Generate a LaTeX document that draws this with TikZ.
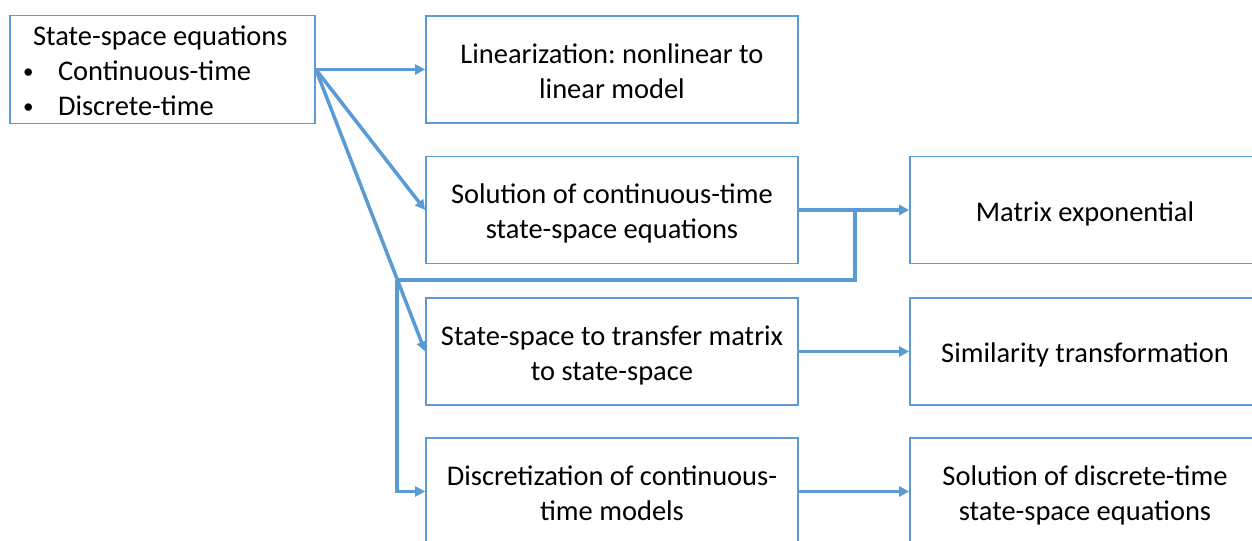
\documentclass[tikz,border=0pt]{standalone}
\usepackage{fontspec}
\setmainfont{Carlito}
\usetikzlibrary{arrows.meta}
\definecolor{boxblue}{RGB}{91,155,213}
\newcommand{\smallbullet}{\makebox[0.72cm][l]{\hspace{0.02cm}\fontsize{12}{12}\selectfont\raisebox{0.04cm}{\textbullet}}}
\newcommand{\topstrut}{\rule{0pt}{1.06em}}
\newcommand{\botstrut}{\rule[-0.27em]{0pt}{0.27em}}

\begin{document}
\begin{tikzpicture}[x=0.02cm,y=-0.02cm,
	main_node/.style={draw=boxblue,line width=1pt,minimum width=7.44cm,text width=7.44cm,minimum height=2.14cm,inner sep=0pt,align=flush center,font=\fontsize{16.2}{19.9}\selectfont\frenchspacing,
		execute at begin node=\topstrut,execute at end node=\botstrut},
	side_node/.style={main_node,minimum width=7cm,text width=7cm},
	list_node/.style={main_node,minimum width=6.1cm,text width=5.62cm,inner xsep=0.24cm,align=flush left,
		execute at begin node={},execute at end node={}},
	link/.style={draw=boxblue,line width=2pt,-{Triangle[length=0.2cm,width=0.2cm]}},
	plain_link/.style={draw=boxblue,line width=2pt}]

		\useasboundingbox (0,0) rectangle (1252,541);
		\clip (0,0) rectangle (1252,541);

		\node[list_node] (src) at (162.5,69.5) {\hspace*{0.22cm}State-space equations\\\smallbullet Continuous-time\\\smallbullet Discrete-time};

		\node[main_node] (lin) at (612,69.5) {Linearization: nonlinear to\\linear model};
		\node[main_node] (sol) at (612,210) {Solution of continuous-time\\state-space equations};
		\node[main_node] (tf) at (612,351.5) {State-space to transfer matrix\\to state-space};
		\node[main_node] (disc) at (612,491.5) {Discretization of continuous-\\time models};

		\node[side_node] (mat) at (1085,210) {Matrix exponential};
		\node[side_node] (sim) at (1085,351.5) {Similarity transformation};
		\node[side_node] (sold) at (1085,491.5) {Solution of discrete-time\\state-space equations};

		\coordinate (jn) at (397,280);
		\coordinate (bend) at (855,280);

		\draw[link] (src.east) -- (lin.west);
		\draw[link] (src.east) -- (sol.west);
		\draw[link] (src.east) -- (tf.west);
		\draw[link] (jn) |- (disc.west);
		\draw[plain_link] (jn) -- (bend) -- (bend |- sol.east);
		\draw[link] (sol.east) -- (mat.west);
		\draw[link] (tf.east) -- (sim.west);
		\draw[link] (disc.east) -- (sold.west);
		\end{tikzpicture}
\end{document}
